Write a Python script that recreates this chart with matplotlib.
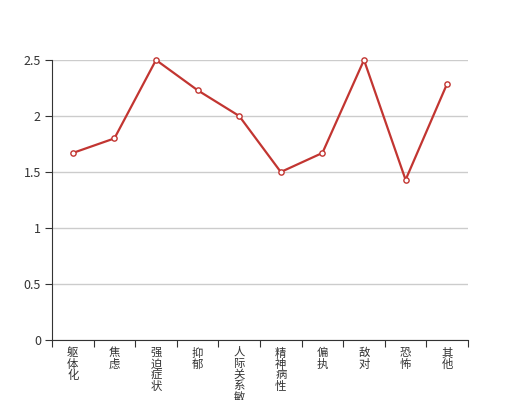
import matplotlib
matplotlib.use("Agg")
import matplotlib.pyplot as plt

plt.rcParams['font.family'] = ['Noto Sans CJK SC', 'DejaVu Sans']

# SCL-90 style factor scores
categories = ["躯体化", "焦虑", "强迫症状", "抑郁", "人际关系敏感",
              "精神病性", "偏执", "敌对", "恐怖", "其他"]
scores = [1.67, 1.8, 2.5, 2.23, 2.0, 1.5, 1.67, 2.5, 1.43, 2.29]
yticks = [0, 0.5, 1, 1.5, 2, 2.5]

fig = plt.figure(figsize=(5.2, 4), dpi=100)
ax = fig.add_axes([0.1, 0.15, 0.8, 0.7])

x = list(range(len(categories)))
ax.plot(x, scores, color="#c23531", lw=1.6, marker="o", ms=3.8,
        mfc="white", mec="#c23531", mew=1, zorder=3, clip_on=False)

ax.set_xlim(-0.5, len(categories) - 0.5)
ax.set_ylim(0, 2.5)
ax.set_yticks(yticks)
ax.set_yticklabels(["0", "0.5", "1", "1.5", "2", "2.5"])
ax.yaxis.grid(True, color="#cccccc", lw=1)
ax.set_axisbelow(True)

# ticks on category boundaries, labels stacked vertically one char per row
ax.set_xticks([i - 0.5 for i in range(len(categories) + 1)])
ax.set_xticklabels([])
ax.tick_params(axis="x", length=5, color="#333333")
trans = ax.get_xaxis_transform()
step = 11 * 0.72  # 11 px per character row
for xi, name in zip(x, categories):
    for k, ch in enumerate(name):
        ax.annotate(ch, (xi, 0), xycoords=trans,
                    xytext=(0, -5.5 - k * step), textcoords="offset points",
                    ha="center", va="top", fontsize=8.2, color="#333333",
                    annotation_clip=False)

ax.tick_params(axis="y", length=5, color="#333333", labelsize=9,
               labelcolor="#333333", pad=3)

for s in ["top", "right"]:
    ax.spines[s].set_visible(False)
for s in ["left", "bottom"]:
    ax.spines[s].set_color("#333333")

fig.savefig("out.png", dpi=100)
